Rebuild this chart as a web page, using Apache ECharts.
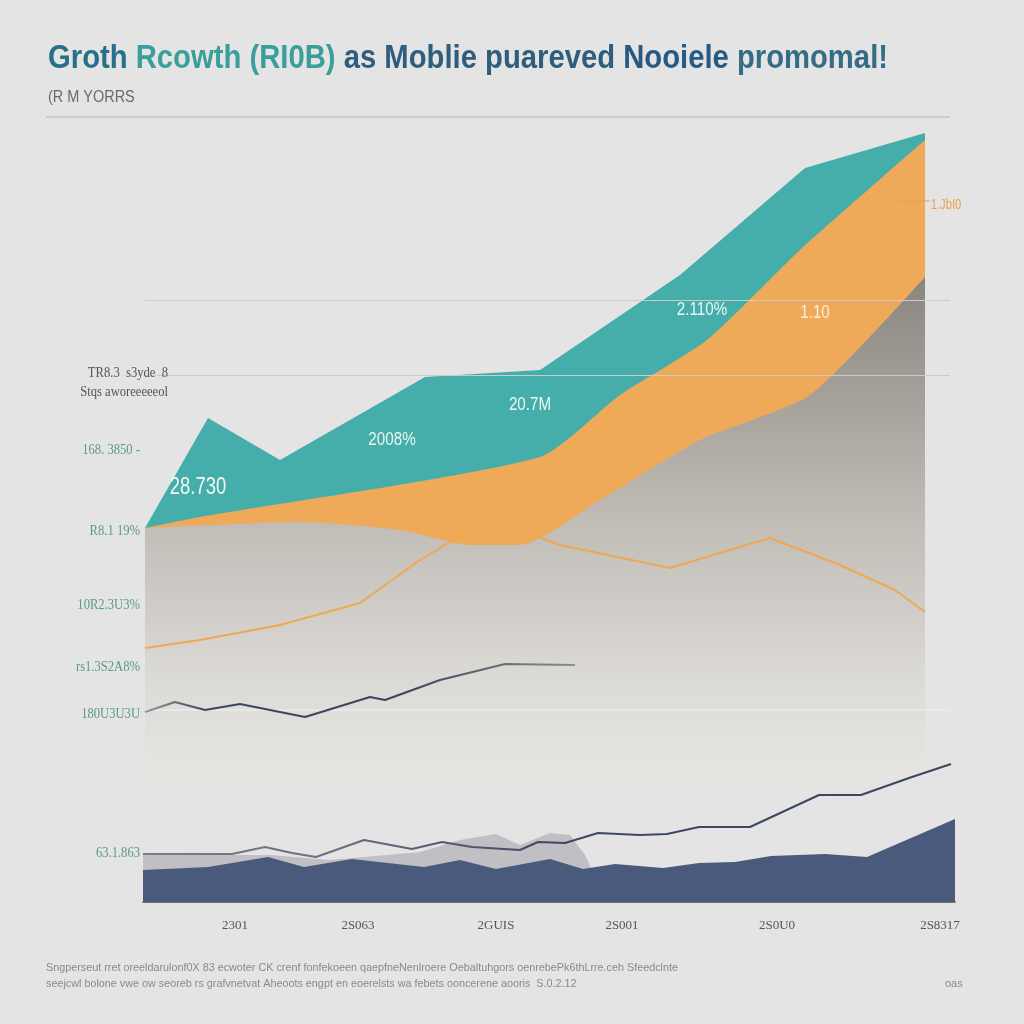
<!DOCTYPE html>
<html><head><meta charset="utf-8">
<script src="https://cdn.jsdelivr.net/npm/echarts@6/dist/echarts.min.js"></script>
<style>html,body{margin:0;padding:0;background:#e4e4e4}#c{width:1024px;height:1024px}</style>
</head><body><div id="c"></div>
<script>
// ---- top panel (values = height above panel floor) ----
const tealX = [145, 208, 280, 425, 540, 680, 805, 925];
const tealV = [250, 360, 318, 401, 408, 503, 610, 645];
const orangeAreaX = [145, 200, 540, 620, 707, 800, 925];
const orangeAreaV = [250, 261, 321, 383, 438, 528, 638];
const grayX = [145, 300, 400, 470, 520, 600, 700, 810, 925];
const grayV = [250, 256, 248, 233, 233, 278, 338, 383, 501];
const orangeLineX = [145, 200, 280, 360, 420, 470, 490, 520, 560, 670, 770, 840, 895, 925];
const orangeLineV = [130, 138, 153, 175, 218, 248, 254, 248, 233, 210, 240, 213, 188, 166];
const darkLineX = [145, 175, 205, 240, 305, 370, 385, 440, 505, 575];
const darkLineV = [66, 76, 68, 74, 61, 81, 78, 98, 114, 113];
// ---- bottom panel ----
const navyX = [143, 208, 268, 304, 352, 424, 460, 496, 550, 583, 615, 663, 699, 735, 771, 825, 867, 955];
const navyV = [32, 35, 45, 35, 43, 35, 42, 33, 43, 33, 38, 34, 39, 40, 46, 48, 45, 83];
const lightX = [143, 270, 330, 420, 460, 496, 520, 550, 570, 585, 592];
const lightV = [47, 47, 42, 50, 62, 68, 57, 69, 67, 47, 32];
const lineBX = [143, 232, 265, 292, 316, 364, 412, 442, 472, 520, 538, 565, 598, 640, 667, 699, 750, 819, 861, 909, 951];
const lineBV = [48, 48, 55, 49, 45, 62, 53, 60, 55, 52, 60, 59, 69, 67, 68, 75, 75, 107, 107, 124, 138];
// ---- tick labels / text ----
const xTickPos = [235, 358, 496, 622, 777, 940];
const xTickLabels = ['2301', '2S063', '2GUIS', '2S001', '2S0U0', '2S8317'];
const leftLabels = ['TR8.3  s3yde  8', 'Stqs aworeeeeeol', '168. 3850 -', 'R8.1 19%', '10R2.3U3%', 'rs1.3S2A8%', '180U3U3U', '63.1.863'];
const areaLabels = ['28.730', '2008%', '20.7M', '2.110%', '1.10', '1.JbI0'];
const titleParts = ['Groth', 'Rcowth (RI0B)', 'as Moblie puareved', 'Nooiele', 'promomal!'];
const subtitle = '(R M YORRS';
const footer = [
  'Sngperseut rret oreeldarulonf0X 83 ecwoter CK crenf fonfekoeen qaepfneNenlroere Oebaltuhgors oenrebePk6thLrre.ceh Sfeedclnte',
  'seejcwl bolone vwe ow seoreb rs grafvnetvat Aheoots engpt en eoerelsts wa febets ooncerene aooris  S.0.2.12',
  'oas'
];

const zip = (xs, vs) => xs.map((x, i) => [x, vs[i]]);
const SANS = "'Liberation Sans','DejaVu Sans',sans-serif";
const SERIF = "'Liberation Serif','DejaVu Serif',serif";

// measure title to fit the reference span (x 48 → 888)
const ctx = document.createElement('canvas').getContext('2d');
ctx.font = 'bold 33px ' + SANS;
const titleW = ctx.measureText(titleParts.join(' ')).width;
const titleScale = 840 / titleW;

const chart = echarts.init(document.getElementById('c'));
const leftY = [373, 392, 450, 531, 605, 667, 714, 853];
const leftColors = ['#555', '#555', '#5a9a8c', '#5a9a8c', '#5a9a8c', '#5a9a8c', '#5a9a8c', '#5a9a8c'];

const graphics = [
  {type: 'line', shape: {x1: 46, y1: 117, x2: 950, y2: 117}, style: {stroke: '#c4c4c4', lineWidth: 1.5}},
  {type: 'line', shape: {x1: 897, y1: 201, x2: 930, y2: 201}, style: {stroke: '#e8a050', lineWidth: 1.2}, z: 20},
  {type: 'text', x: 48, y: 59, scaleX: titleScale, z: 20,
    style: {
      text: '{a|' + titleParts[0] + '} {b|' + titleParts[1] + '} {c|' + titleParts[2] + '} {d|' + titleParts[3] + '} {e|' + titleParts[4] + '}',
      font: 'bold 33px ' + SANS, textVerticalAlign: 'middle',
      rich: {
        a: {font: 'bold 33px ' + SANS, fill: '#27708a'},
        b: {font: 'bold 33px ' + SANS, fill: '#3a9f9b'},
        c: {font: 'bold 33px ' + SANS, fill: '#2e5e7c'},
        d: {font: 'bold 33px ' + SANS, fill: '#275a82'},
        e: {font: 'bold 33px ' + SANS, fill: '#356c86'}
      }
    }},
  {type: 'text', x: 48, y: 97, scaleX: 0.85, style: {text: subtitle, font: '17px ' + SANS, fill: '#6a6a6a', textVerticalAlign: 'middle'}},
  {type: 'text', x: 46, y: 968, style: {text: footer[0], font: '10.8px ' + SANS, fill: '#8a8a8a', textVerticalAlign: 'middle'}},
  {type: 'text', x: 46, y: 984, style: {text: footer[1], font: '10.8px ' + SANS, fill: '#8a8a8a', textVerticalAlign: 'middle'}},
  {type: 'text', x: 945, y: 984, style: {text: footer[2], font: '11px ' + SANS, fill: '#8a8a8a', textVerticalAlign: 'middle'}}
];
leftLabels.forEach((t, i) => {
  graphics.push({type: 'text', x: (i < 2 ? 168 : 140), y: leftY[i], z: 20, scaleX: 0.9,
    style: {text: t, font: '14px ' + SERIF, fill: leftColors[i], textAlign: 'right', textVerticalAlign: 'middle'}});
});
const areaPos = [[198, 488, 23, '#f4f6f2'], [392, 440, 19, '#eef6f4'], [530, 405, 19, '#eef6f4'], [702, 310, 19, '#eef6f4'], [815, 313, 19, '#fbeedd'], [946, 205, 14, '#eaa050']];
areaLabels.forEach((t, i) => {
  const p = areaPos[i];
  graphics.push({type: 'text', x: p[0], y: p[1], z: 20, scaleX: 0.8,
    style: {text: t, font: p[2] + 'px ' + SANS, fill: p[3], textAlign: 'center', textVerticalAlign: 'middle'}});
});

chart.setOption({
  backgroundColor: '#e4e4e4',
  animation: false,
  grid: [
    {left: 145, top: 130, width: 805, height: 648},
    {left: 143, top: 760, width: 812, height: 142}
  ],
  xAxis: [
    {gridIndex: 0, type: 'value', min: 145, max: 950, show: false},
    {gridIndex: 1, type: 'value', min: 143, max: 955,
      axisLine: {show: true, lineStyle: {color: '#4a4a50', width: 1.5}},
      axisTick: {show: false}, splitLine: {show: false},
      axisLabel: {customValues: xTickPos, margin: 17, color: '#555', fontSize: 13, fontFamily: SERIF,
        formatter: v => xTickLabels[xTickPos.indexOf(v)] || ''}}
  ],
  yAxis: [
    {gridIndex: 0, type: 'value', min: 0, max: 648, show: false},
    {gridIndex: 1, type: 'value', min: 0, max: 142, show: false}
  ],
  series: [
    {type: 'line', xAxisIndex: 0, yAxisIndex: 0, data: [], z: 0, silent: true,
      markLine: {silent: true, symbol: 'none', label: {show: false},
        lineStyle: {color: '#cbcbcb', type: 'solid', width: 1},
        data: [{yAxis: 478}, {yAxis: 403}]}},
    {type: 'line', xAxisIndex: 0, yAxisIndex: 0, data: zip(tealX, tealV), symbol: 'none', z: 2,
      lineStyle: {width: 0}, areaStyle: {color: '#45aeaa', opacity: 1}},
    {type: 'line', xAxisIndex: 0, yAxisIndex: 0, data: zip(orangeAreaX, orangeAreaV), symbol: 'none', z: 3, smooth: 0.2,
      lineStyle: {width: 0}, areaStyle: {color: '#eeaa58', opacity: 1}},
    {type: 'line', xAxisIndex: 0, yAxisIndex: 0, data: zip(grayX, grayV), symbol: 'none', z: 4, smooth: 0.2,
      lineStyle: {width: 0},
      areaStyle: {opacity: 1, color: new echarts.graphic.LinearGradient(0, 0, 0, 1, [
        {offset: 0, color: '#8a867f'}, {offset: 0.45, color: '#bdb8b2'}, {offset: 0.8, color: '#dcdad6'}, {offset: 1, color: '#e6e5e2'}])},
      markLine: {silent: true, symbol: 'none', label: {show: false},
        lineStyle: {color: '#ecebe7', type: 'solid', width: 1.5}, data: [{yAxis: 68}]}},
    {type: 'line', xAxisIndex: 0, yAxisIndex: 0, data: zip(orangeLineX, orangeLineV), symbol: 'none', z: 5,
      lineStyle: {color: '#f0a850', width: 2}},
    {type: 'line', xAxisIndex: 0, yAxisIndex: 0, data: zip(darkLineX, darkLineV), symbol: 'none', z: 5,
      lineStyle: {width: 2.2, color: new echarts.graphic.LinearGradient(0, 0, 1, 0, [
        {offset: 0, color: '#9a9aa0'}, {offset: 0.15, color: '#3c465e'}, {offset: 0.6, color: '#3c465e'}, {offset: 1, color: '#8c8c8c'}])}},
    {type: 'line', xAxisIndex: 1, yAxisIndex: 1, data: zip(lightX, lightV), symbol: 'none', z: 2,
      lineStyle: {width: 0}, areaStyle: {color: '#b6b6bc', opacity: 0.8}},
    {type: 'line', xAxisIndex: 1, yAxisIndex: 1, data: zip(navyX, navyV), symbol: 'none', z: 3,
      lineStyle: {width: 0}, areaStyle: {color: '#4a5a7c', opacity: 1}},
    {type: 'line', xAxisIndex: 1, yAxisIndex: 1, data: zip(lineBX, lineBV), symbol: 'none', z: 4, clip: false,
      lineStyle: {width: 2, color: new echarts.graphic.LinearGradient(0, 0, 1, 0, [
        {offset: 0, color: '#7c7c84'}, {offset: 0.25, color: '#6a6e7c'}, {offset: 0.5, color: '#3e4862'}, {offset: 1, color: '#3a4660'}])}}
  ],
  graphic: graphics
});
</script>
</body></html>
